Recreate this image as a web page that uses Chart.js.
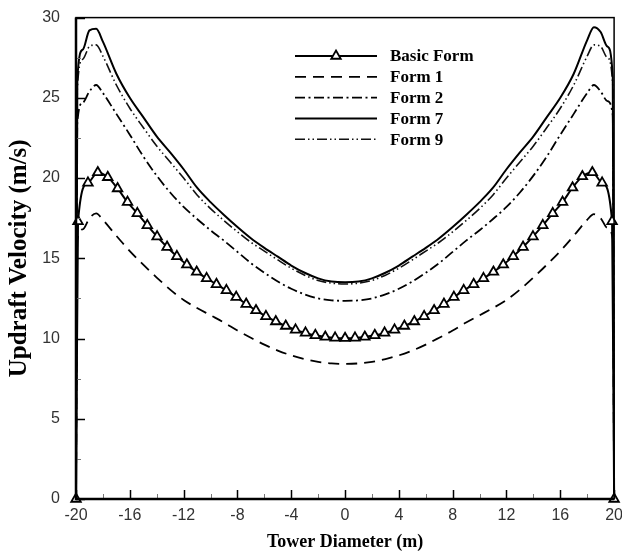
<!DOCTYPE html>
<html>
<head>
<meta charset="utf-8">
<script src="https://cdn.jsdelivr.net/npm/chart.js@4.4.1/dist/chart.umd.min.js"></script>
<style>
  html, body { margin: 0; padding: 0; background: #fff; }
  #wrap { width: 622px; height: 555px; }
</style>
</head>
<body>
<div id="wrap"><canvas id="chart" width="622" height="555"></canvas></div>
<script>
// ─── Data ───────────────────────────────────────
const seriesNames = ["Basic Form", "Form 1", "Form 2", "Form 7", "Form 9"];

// Basic Form (with triangle markers)
const xBasic = [-20, -19.85, -19.11, -18.38, -17.64, -16.91, -16.17, -15.44, -14.70, -13.97,
  -13.23, -12.50, -11.76, -11.03, -10.29, -9.56, -8.82, -8.09, -7.35, -6.62,
  -5.88, -5.15, -4.41, -3.68, -2.94, -2.21, -1.47, -0.74, 0,
  0.74, 1.47, 2.21, 2.94, 3.68, 4.41, 5.15, 5.88, 6.62, 7.35,
  8.09, 8.82, 9.56, 10.29, 11.03, 11.76, 12.50, 13.23, 13.97, 14.70,
  15.44, 16.17, 16.91, 17.64, 18.38, 19.11, 19.85, 20];
const basicForm = [0, 17.3, 19.7, 20.35, 20.05, 19.35, 18.5, 17.8, 17.05, 16.35,
  15.7, 15.12, 14.6, 14.15, 13.75, 13.38, 13.0, 12.58, 12.15, 11.75,
  11.38, 11.06, 10.78, 10.54, 10.35, 10.2, 10.1, 10.04, 10.02,
  10.04, 10.1, 10.2, 10.35, 10.54, 10.78, 11.06, 11.38, 11.75, 12.15,
  12.58, 13.0, 13.38, 13.75, 14.15, 14.6, 15.12, 15.7, 16.35, 17.05,
  17.8, 18.5, 19.4, 20.1, 20.35, 19.7, 17.3, 0];

// Forms 1, 2, 7, 9 share these x positions
const xForms = [-20, -19.9, -19.5, -19, -18.5, -18, -17, -16, -15, -14, -13, -12,
  -11, -10, -9, -8, -7, -6, -5, -4, -3, -2, -1, 0,
  1, 2, 3, 4, 5, 6, 7, 8, 9, 10, 11,
  12, 13, 14, 15, 16, 17, 18, 18.5, 19, 19.5, 19.9, 20];
const form1 = [0, 16.1, 16.8, 17.5, 17.8, 17.4, 16.4, 15.45, 14.6, 13.8, 13.05, 12.4,
  11.9, 11.45, 11.0, 10.5, 10.05, 9.62, 9.25, 8.95, 8.72, 8.55, 8.45, 8.42,
  8.45, 8.55, 8.72, 8.95, 9.25, 9.62, 10.05, 10.5, 11.0, 11.45, 11.9,
  12.4, 13.05, 13.8, 14.6, 15.45, 16.4, 17.4, 17.75, 17.5, 16.9, 16.2, 0];
const form2 = [0, 23.5, 24.7, 25.4, 25.8, 25.3, 24.0, 22.7, 21.35, 20.15, 19.1, 18.2,
  17.45, 16.75, 16.1, 15.4, 14.7, 14.1, 13.55, 13.1, 12.75, 12.5, 12.38, 12.35,
  12.38, 12.5, 12.75, 13.1, 13.55, 14.1, 14.7, 15.4, 16.1, 16.75, 17.45,
  18.2, 19.1, 20.15, 21.35, 22.7, 24.0, 25.3, 25.8, 25.4, 24.8, 23.9, 0];
const form7 = [0, 26.2, 28.0, 29.2, 29.3, 28.5, 26.5, 25.0, 23.8, 22.6, 21.6, 20.55,
  19.4, 18.5, 17.7, 16.95, 16.25, 15.65, 15.1, 14.55, 14.1, 13.75, 13.55, 13.5,
  13.55, 13.75, 14.1, 14.55, 15.1, 15.65, 16.25, 16.95, 17.7, 18.5, 19.4,
  20.55, 21.6, 22.6, 23.8, 25.0, 26.5, 28.6, 29.4, 29.1, 28.2, 26.3, 0];
const form9 = [0, 25.6, 27.4, 28.2, 28.3, 27.6, 25.8, 24.35, 23.15, 22.0, 21.0, 20.0,
  18.95, 18.1, 17.35, 16.65, 16.0, 15.45, 14.9, 14.38, 13.95, 13.62, 13.45, 13.4,
  13.45, 13.62, 13.95, 14.38, 14.9, 15.45, 16.0, 16.65, 17.35, 18.1, 18.95,
  20.0, 21.0, 22.0, 23.15, 24.35, 25.8, 27.6, 28.3, 28.2, 27.5, 25.8, 0];

// Axis ticks
const xTickStep = 4;
const yTickStep = 5;

// ─── Helpers ────────────────────────────────────
const toPoints = (xs, ys) => xs.map((x, i) => ({ x, y: ys[i] }));
const SERIF = "'Liberation Serif', 'Times New Roman', serif";
const SANS = "'Liberation Sans', Arial, sans-serif";

// inward tick marks + plot frame
const frameTicks = {
  id: "frameTicks",
  afterDraw(chart) {
    const { ctx, chartArea: a, scales: { x, y } } = chart;
    ctx.save();
    ctx.strokeStyle = "#000";
    ctx.lineWidth = 1.5;
    for (let v = 0; v <= 30; v += yTickStep) {
      const py = Math.round(y.getPixelForValue(v)) + 0.5;
      ctx.beginPath(); ctx.moveTo(a.left, py); ctx.lineTo(a.left + 9, py); ctx.stroke();
    }
    for (let v = -20; v <= 20; v += xTickStep) {
      const px = Math.round(x.getPixelForValue(v)) + 0.5;
      ctx.beginPath(); ctx.moveTo(px, a.bottom); ctx.lineTo(px, a.bottom - 9); ctx.stroke();
    }
    ctx.strokeStyle = "#777";
    ctx.lineWidth = 1;
    for (let v = yTickStep / 2; v < 30; v += yTickStep) {
      const py = Math.round(y.getPixelForValue(v)) + 0.5;
      ctx.beginPath(); ctx.moveTo(a.left, py); ctx.lineTo(a.left + 5, py); ctx.stroke();
    }
    for (let v = -20 + xTickStep / 2; v < 20; v += xTickStep) {
      const px = Math.round(x.getPixelForValue(v)) + 0.5;
      ctx.beginPath(); ctx.moveTo(px, a.bottom); ctx.lineTo(px, a.bottom - 5); ctx.stroke();
    }
    ctx.strokeStyle = "#000";
    ctx.lineWidth = 1.5;
    ctx.strokeRect(a.left, a.top, a.right - a.left, a.bottom - a.top);
    ctx.lineWidth = 2.5;
    ctx.beginPath(); ctx.moveTo(a.left, a.top); ctx.lineTo(a.left, a.bottom); ctx.lineTo(a.right, a.bottom); ctx.stroke();
    ctx.restore();
  }
};

// legend drawn inside the plot, line samples like the original
const sketchLegend = {
  id: "sketchLegend",
  afterDraw(chart) {
    const ctx = chart.ctx;
    const x0 = 295, x1 = 377, tx = 390, top = 56, row = 20.8;
    ctx.save();
    ctx.font = "bold 17px " + SERIF;
    ctx.textBaseline = "middle";
    ctx.fillStyle = "#000";
    chart.data.datasets.forEach((ds, i) => {
      const y = top + i * row;
      ctx.beginPath();
      ctx.setLineDash(ds.borderDash || []);
      ctx.lineWidth = ds.borderWidth;
      ctx.strokeStyle = ds.borderColor;
      ctx.moveTo(x0, y); ctx.lineTo(x1, y); ctx.stroke();
      ctx.setLineDash([]);
      if (ds.pointRadius > 0) {
        ctx.fillStyle = ds.pointBackgroundColor;
        ctx.strokeStyle = ds.pointBorderColor;
        ctx.lineWidth = ds.pointBorderWidth;
        Chart.helpers.drawPoint(ctx, { pointStyle: "triangle", radius: ds.pointRadius, rotation: 0, borderWidth: ds.pointBorderWidth }, (x0 + x1) / 2, y);
      }
      ctx.fillStyle = "#000";
      ctx.fillText(ds.label, tx, y + 1);
    });
    ctx.restore();
  }
};

function lineSet(label, xs, ys, dash, width, color) {
  return {
    label, data: toPoints(xs, ys), showLine: true,
    borderColor: color, borderWidth: width, borderDash: dash,
    pointRadius: 0, pointHoverRadius: 0, tension: 0,
    cubicInterpolationMode: "monotone", clip: 3
  };
}

// ─── Chart ──────────────────────────────────────
function init() {
  const basic = lineSet(seriesNames[0], xBasic, basicForm, [], 2, "#000");
  Object.assign(basic, {
    pointStyle: "triangle", pointRadius: 5.5, pointBorderWidth: 1.8,
    pointBackgroundColor: "#fff", pointBorderColor: "#000", clip: false
  });

  new Chart(document.getElementById("chart"), {
    type: "scatter",
    data: {
      datasets: [
        basic,
        lineSet(seriesNames[1], xForms, form1, [11, 7], 1.8, "#000"),
        lineSet(seriesNames[2], xForms, form2, [10, 3.5, 2, 3.5], 1.8, "#000"),
        lineSet(seriesNames[3], xForms, form7, [], 2, "#000"),
        lineSet(seriesNames[4], xForms, form9, [10, 3, 1.5, 3, 1.5, 3], 1.6, "#111")
      ]
    },
    options: {
      responsive: false,
      animation: false,
      devicePixelRatio: 1,
      layout: { autoPadding: false, padding: { top: 15, right: 7, left: 0, bottom: 0 } },
      plugins: { legend: { display: false }, tooltip: { enabled: false } },
      scales: {
        x: {
          type: "linear", min: -20, max: 20,
          grid: { display: false }, border: { display: false },
          ticks: { stepSize: xTickStep, padding: -1, color: "#333", font: { family: SANS, size: 16 }, maxRotation: 0 },
          title: { display: true, text: "Tower Diameter (m)", color: "#000", padding: { top: 0, bottom: 2 },
                   font: { family: SERIF, size: 18, weight: "bold" } },
          afterFit: s => { s.height = 56; }
        },
        y: {
          type: "linear", min: 0, max: 30,
          grid: { display: false }, border: { display: false },
          ticks: { stepSize: yTickStep, padding: 8, color: "#333", font: { family: SANS, size: 16 } },
          title: { display: true, text: "Updraft Velocity (m/s)", color: "#000", padding: { top: 5, bottom: 0 },
                   font: { family: SERIF, size: 25, weight: "bold" } },
          afterFit: s => { s.width = 76; }
        }
      }
    },
    plugins: [frameTicks, sketchLegend]
  });
}
window.addEventListener("DOMContentLoaded", init);
</script>
</body>
</html>
